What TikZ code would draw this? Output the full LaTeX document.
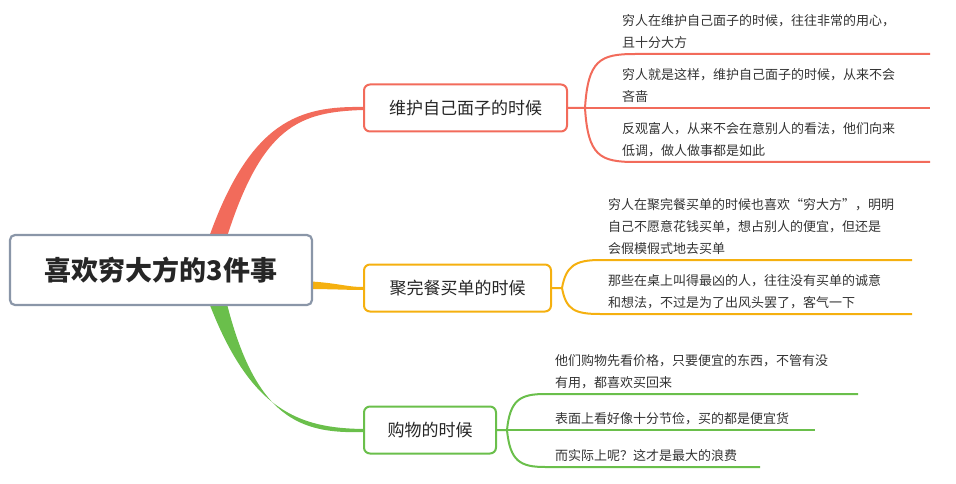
\documentclass[tikz,border=0pt]{standalone}
\usepackage{fontspec}
\setmainfont{Noto Sans CJK SC}
\begin{document}
\begin{tikzpicture}[x=1pt,y=-1pt,
  rootbox/.style={draw=cgr, line width=2.2pt, rounded corners=5pt, fill=white, minimum width=302pt, minimum height=70pt, font=\fontsize{27}{32}\selectfont\bfseries, text=black!85},
  brbox/.style={line width=2pt, rounded corners=6pt, fill=white, minimum height=47pt, font=\fontsize{17}{20}\selectfont, text=black!85, anchor=west},
  leaf/.style={anchor=south west, align=left, inner sep=0pt, font=\fontsize{13}{22}\selectfont, text=black!80},
  lline/.style={line width=2pt}]
\definecolor{cr}{HTML}{F26B5B}
\definecolor{co}{HTML}{F5B00F}
\definecolor{cg}{HTML}{6ABF4B}
\definecolor{cgr}{HTML}{8A96A8}
\useasboundingbox (0,0) rectangle (956,484);
% taper curves
\fill[cr] (208,240) .. controls (250,120) and (300,106) .. (363,107) -- (363,110) .. controls (300,112) and (262,125) .. (226,240) -- cycle;
\fill[cg] (208,300) .. controls (250,412) and (300,428) .. (363,429) -- (363,432) .. controls (300,434) and (255,418) .. (226,300) -- cycle;
\fill[co] (300,281) .. controls (335,282) and (345,287) .. (363,287) -- (363,290) .. controls (345,290) and (335,289) .. (300,289) -- cycle;
\node[rootbox] (root) at (161,270) {喜欢穷大方的3件事};
\node[brbox, draw=cr, minimum width=203pt] (b1) at (363,108) {维护自己面子的时候};
\node[brbox, draw=co, minimum width=187pt] (b2) at (363,288) {聚完餐买单的时候};
\node[brbox, draw=cg, minimum width=132pt] (b3) at (363,430) {购物的时候};
% branch 1
\coordinate (e11) at (930,54); \coordinate (e12) at (930,108); \coordinate (e13) at (930,162);
\draw[lline,cr] (b1.east) -- (585,108) .. controls (588,60) and (600,54) .. (635,54) -- (e11);
\draw[lline,cr] (585,108) -- (e12);
\draw[lline,cr] (585,108) .. controls (588,156) and (600,162) .. (635,162) -- (e13);
\node[leaf] (t11) at (622,49) {穷人在维护自己面子的时候，往往非常的用心，\\且十分大方};
\node[leaf] (t12) at (622,103) {穷人就是这样，维护自己面子的时候，从来不会\\吝啬};
\node[leaf] (t13) at (622,157) {反观富人，从来不会在意别人的看法，他们向来\\低调，做人做事都是如此};
% branch 2
\coordinate (e21) at (912,260); \coordinate (e22) at (912,314);
\draw[lline,co] (b2.east) -- (562,288) .. controls (566,266) and (575,260) .. (600,260) -- (e21);
\draw[lline,co] (562,288) .. controls (566,310) and (575,314) .. (600,314) -- (e22);
\node[leaf] (t21) at (608,255) {穷人在聚完餐买单的时候也喜欢“穷大方”，明明\\自己不愿意花钱买单，想占别人的便宜，但还是\\会假模假式地去买单};
\node[leaf] (t22) at (608,309) {那些在桌上叫得最凶的人，往往没有买单的诚意\\和想法，不过是为了出风头罢了，客气一下};
% branch 3
\coordinate (e31) at (858,394); \coordinate (e32) at (815,430); \coordinate (e33) at (760,467);
\draw[lline,cg] (b3.east) -- (507,430) .. controls (510,400) and (520,394) .. (545,394) -- (e31);
\draw[lline,cg] (507,430) -- (e32);
\draw[lline,cg] (507,430) .. controls (510,461) and (520,467) .. (545,467) -- (e33);
\node[leaf] (t31) at (555,389) {他们购物先看价格，只要便宜的东西，不管有没\\有用，都喜欢买回来};
\node[leaf] (t32) at (555,425) {表面上看好像十分节俭，买的都是便宜货};
\node[leaf] (t33) at (555,462) {而实际上呢？这才是最大的浪费};
\end{tikzpicture}
\end{document}
